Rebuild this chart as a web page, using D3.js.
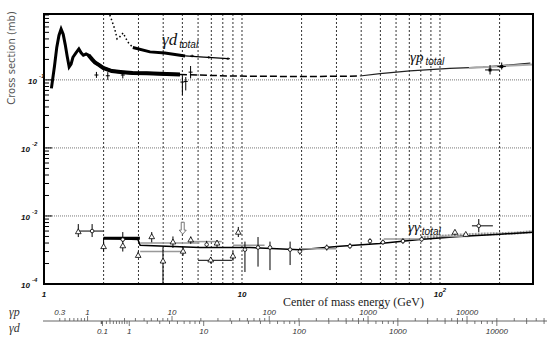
<!DOCTYPE html>
<html>
<head>
<meta charset="utf-8">
<script src="https://cdn.jsdelivr.net/npm/d3@7"></script>
<style>
body { margin: 0; background: #fff; }
svg { display: block; }
</style>
</head>
<body>
<script>
// gamma-p total cross section, low energy band (W in GeV, sigma in mb)
const gpW = [1.09, 1.13, 1.16, 1.19, 1.22, 1.25, 1.28, 1.31, 1.34, 1.37, 1.40, 1.45, 1.50, 1.54, 1.58, 1.63, 1.68, 1.75, 1.81, 1.90, 1.99, 2.2, 2.5, 2.8, 3.3, 3.85, 4.86];
const gpS = [0.075, 0.16, 0.30, 0.45, 0.56, 0.47, 0.33, 0.22, 0.155, 0.17, 0.215, 0.25, 0.285, 0.25, 0.23, 0.24, 0.23, 0.20, 0.18, 0.165, 0.15, 0.135, 0.13, 0.126, 0.125, 0.123, 0.12];
// gamma-p, intermediate (dashed) and high energy
const gpMidW = [4.86, 8.7, 19.6, 31.2, 39.4];
const gpMidS = [0.12, 0.114, 0.112, 0.113, 0.114];
const gpHiW = [39.4, 49.8, 70.5, 112, 165, 286];
const gpHiS = [0.114, 0.124, 0.136, 0.148, 0.154, 0.176];
// gamma-p points: [W, sigma, low, high]
const gpPts = [[1.84, 0.118, 0.107, 0.131], [2.1, 0.115, 0.100, 0.130], [2.5, 0.118, 0.105, 0.132], [5.0, 0.093, 0.060, 0.115], [5.2, 0.095, 0.070, 0.110], [5.5, 0.13, 0.105, 0.16]];
// HERA points: [W, sigma, low, high, Wlow, Whigh]
const gpHera = [[179, 0.14, 0.12, 0.165, 169, 200], [205, 0.157, 0.142, 0.18, 195, 215]];

// gamma-d total cross section
const gdW = [2.15, 2.2, 2.28, 2.34, 2.40, 2.51, 2.65, 2.81, 3.43, 4.08, 5.16, 6.13, 8.5];
const gdS = [0.90, 0.75, 0.55, 0.40, 0.42, 0.49, 0.36, 0.30, 0.258, 0.249, 0.225, 0.218, 0.205];
const gdPts = [[5.6, 0.224, 0.215, 0.235], [6.8, 0.214, 0.205, 0.224], [8.5, 0.205, 0.196, 0.214]];

// gamma-gamma total cross section
const ggW = [1.99, 2.98, 3.06, 6.13, 10.97, 19.6, 31.2, 49.8, 79, 125, 201, 295];
const ggS = [4.7e-4, 4.5e-4, 3.7e-4, 3.44e-4, 3.44e-4, 3.2e-4, 3.6e-4, 3.95e-4, 4.5e-4, 5.0e-4, 5.4e-4, 5.77e-4];
const ggBandW = [80, 120, 160, 200, 240, 295];
const ggBandS = [4.8e-4, 5.2e-4, 5.4e-4, 5.5e-4, 5.6e-4, 5.9e-4];
// [W, sigma, low, high]
const ggTri = [[1.49, 5.8e-4, 4.9e-4, 7.6e-4], [2.00, 3.5e-4, 3.0e-4, 4.7e-4], [2.50, 3.6e-4, 3.0e-4, 5.8e-4], [2.99, 2.6e-4, 2.45e-4, 3.0e-4], [3.50, 4.9e-4, 4.1e-4, 5.8e-4], [3.99, 2.15e-4, 1.03e-4, 3.44e-4], [4.48, 4.1e-4, 3.4e-4, 5.0e-4], [5.04, 3.0e-4, 2.6e-4, 3.5e-4], [5.51, 4.4e-4, 3.9e-4, 5.0e-4], [6.95, 2.23e-4, 2.0e-4, 2.5e-4], [7.48, 3.95e-4, 3.5e-4, 4.4e-4], [9.0, 2.55e-4, 2.2e-4, 3.0e-4], [9.58, 5.7e-4, 4.9e-4, 6.9e-4], [119, 5.7e-4, 5.2e-4, 6.2e-4], [135, 5.3e-4, 5.0e-4, 5.6e-4]];
const ggCirc = [[1.75, 6.0e-4, 4.9e-4, 7.6e-4], [2.5, 4.5e-4, 4.2e-4, 4.8e-4], [6.63, 3.8e-4, 3.4e-4, 4.3e-4], [10.35, 3.2e-4, 1.5e-4, 4.2e-4], [12.05, 3.44e-4, 1.8e-4, 4.9e-4], [13.85, 3.44e-4, 1.6e-4, 4.2e-4], [17.5, 3.2e-4, 1.9e-4, 4.2e-4], [19.6, 3.0e-4, 2.7e-4, 3.4e-4], [26.8, 3.44e-4, 3.1e-4, 3.8e-4], [35.1, 3.6e-4, 3.3e-4, 4.0e-4], [44.3, 4.27e-4, 3.9e-4, 4.7e-4], [51.5, 4.1e-4, 3.8e-4, 4.5e-4], [65, 4.27e-4, 3.9e-4, 4.7e-4], [80.8, 4.54e-4, 4.2e-4, 5.0e-4], [157, 7.16e-4, 5.77e-4, 9.0e-4]];
// horizontal bins: [Wlow, Whigh, sigma]
const ggBins = [[1.49, 1.99, 6.0e-4], [2.0, 3.05, 4.7e-4], [6.0, 8.9, 2.23e-4], [145, 185, 7.16e-4]];
const ggGreyBins = [[3.06, 6.1, 4.0e-4], [3.06, 5.0, 3.0e-4], [5.5, 7.9, 4.2e-4], [9.0, 13, 3.7e-4], [20, 30, 3.3e-4], [52, 80, 4.6e-4], [100, 140, 5.0e-4]];
// upper limit arrow: [W, from, to]
const ggLim = [[5.02, 8.1e-4, 5.4e-4]];

// tick values
const yDecades = [1e-4, 1e-3, 1e-2, 1e-1];
const yLabels = ['-4', '-3', '-2', '-1'];
const xDecades = [1, 10, 100];
const xLabels = ['1', '10', '10'];
const gpLabE = [0.3, 1, 10, 100, 1000, 10000];
const gpLabT = ['0.3', '1', '10', '100', '1000', '10000'];
const gdLabE = [0.1, 1, 10, 100, 1000, 10000];
const gdLabT = ['0.1', '1', '10', '100', '1000', '10000'];

const mp = 0.938, md = 1.876;

const svg = d3.select('body').append('svg').attr('width', 550).attr('height', 344);

const x = d3.scaleLog().domain([1, 295]).range([44, 533]);
const y = d3.scaleLog().domain([1e-4, 0.93]).range([284, 14]);

// minor positions
const xMinor = [];
[1, 10, 100].forEach(d => { for (let k = 2; k <= 10; k++) if (d * k <= 295) xMinor.push(d * k); });
const yMinor = [];
[1e-4, 1e-3, 1e-2, 1e-1].forEach(d => { for (let k = 2; k <= 9; k++) if (d * k <= 0.93) yMinor.push(d * k); });

// grid
const grid = svg.append('g');
grid.selectAll('.vg').data(xMinor).join('line')
  .attr('x1', d => x(d)).attr('x2', d => x(d)).attr('y1', 14).attr('y2', 284)
  .style('stroke', '#333').style('stroke-width', 1).style('stroke-dasharray', '2,2');
grid.selectAll('.hg').data([1e-3, 1e-2, 1e-1]).join('line')
  .attr('x1', 44).attr('x2', 533).attr('y1', d => y(d)).attr('y2', d => y(d))
  .style('stroke', '#777').style('stroke-width', 1).style('stroke-dasharray', '1,1');

const line = d3.line().x(d => x(d[0])).y(d => y(d[1]));
const zip = (a, b) => a.map((v, i) => [v, b[i]]);

// gamma p
svg.append('path').attr('d', line(zip(gpW, gpS))).style('fill', 'none').style('stroke', '#000').style('stroke-width', 3);
svg.append('path').attr('d', line(zip(gpW.slice(16), gpS.slice(16)))).style('fill', 'none').style('stroke', '#000').style('stroke-width', 4);
svg.append('path').attr('d', line(zip(gpMidW, gpMidS))).style('fill', 'none').style('stroke', '#000').style('stroke-width', 1.5).style('stroke-dasharray', '7,3');
svg.append('path').attr('d', line(zip(gpHiW, gpHiS))).style('fill', 'none').style('stroke', '#222').style('stroke-width', 1.2);
svg.append('path').attr('d', line([[140, 0.15], [295, 0.168]])).style('fill', 'none').style('stroke', '#aaa').style('stroke-width', 2);

// gamma d
svg.append('path').attr('d', line(zip(gdW.slice(0, 8), gdS.slice(0, 8)))).style('fill', 'none').style('stroke', '#000').style('stroke-width', 1.5).style('stroke-dasharray', '1.5,2.5');
svg.append('path').attr('d', line(zip(gdW.slice(7, 11), gdS.slice(7, 11)))).style('fill', 'none').style('stroke', '#000').style('stroke-width', 3);
svg.append('path').attr('d', line(zip(gdW.slice(10), gdS.slice(10)))).style('fill', 'none').style('stroke', '#000').style('stroke-width', 1.2);

// gamma gamma
svg.append('path').attr('d', line(zip(ggBandW, ggBandS))).style('fill', 'none').style('stroke', '#999').style('stroke-width', 3).style('stroke-dasharray', '2,1');
svg.append('path').attr('d', line(zip(ggW, ggS))).style('fill', 'none').style('stroke', '#000').style('stroke-width', 1.5);

function errBars(g, data, col) {
  g.selectAll(null).data(data).join('line')
    .attr('x1', d => x(d[0])).attr('x2', d => x(d[0]))
    .attr('y1', d => y(d[2])).attr('y2', d => y(d[3]))
    .style('stroke', col).style('stroke-width', 1);
}
const marks = svg.append('g');
marks.selectAll(null).data(ggGreyBins).join('line')
  .attr('x1', d => x(d[0])).attr('x2', d => x(d[1])).attr('y1', d => y(d[2])).attr('y2', d => y(d[2]))
  .style('stroke', '#999').style('stroke-width', 1.5);
marks.selectAll(null).data(ggBins).join('line')
  .attr('x1', d => x(d[0])).attr('x2', d => x(d[1])).attr('y1', d => y(d[2])).attr('y2', d => y(d[2]))
  .style('stroke', '#000').style('stroke-width', (d, i) => i === 1 ? 3 : 1);
marks.selectAll(null).data(gpHera).join('line')
  .attr('x1', d => x(d[4])).attr('x2', d => x(d[5])).attr('y1', d => y(d[1])).attr('y2', d => y(d[1]))
  .style('stroke', '#000').style('stroke-width', 1);
errBars(marks, ggTri, '#000');
errBars(marks, ggCirc, '#000');
errBars(marks, gpPts, '#000');
errBars(marks, gpHera, '#000');
errBars(marks, gdPts, '#000');

const tri = d3.symbol().type(d3.symbolTriangle).size(14);
marks.selectAll(null).data(ggTri).join('path')
  .attr('d', tri).attr('transform', d => `translate(${x(d[0])},${y(d[1])})`)
  .style('fill', '#fff').style('stroke', '#000').style('stroke-width', 0.8);
marks.selectAll(null).data(ggCirc).join('circle')
  .attr('cx', d => x(d[0])).attr('cy', d => y(d[1])).attr('r', 1.8)
  .style('fill', '#fff').style('stroke', '#000').style('stroke-width', 0.8);
// small crosses on gamma-p / gamma-d points
marks.selectAll(null).data(gpPts.concat(gdPts)).join('line')
  .attr('x1', d => x(d[0]) - 2).attr('x2', d => x(d[0]) + 2).attr('y1', d => y(d[1])).attr('y2', d => y(d[1]))
  .style('stroke', '#000').style('stroke-width', 1);
marks.selectAll(null).data(gpHera).join('rect')
  .attr('x', d => x(d[0]) - 1.5).attr('y', d => y(d[1]) - 1.5).attr('width', 3).attr('height', 3)
  .style('fill', '#000');
// upper limit arrows
ggLim.forEach(d => {
  const xx = x(d[0]), y1 = y(d[1]), y2 = y(d[2]);
  marks.append('path')
    .attr('d', `M${xx - 1.5},${y1} L${xx - 1.5},${y2 - 4} L${xx - 3.5},${y2 - 4} L${xx},${y2} L${xx + 3.5},${y2 - 4} L${xx + 1.5},${y2 - 4} L${xx + 1.5},${y1} Z`)
    .style('fill', '#fff').style('stroke', '#555').style('stroke-width', 0.8);
});

// frame
svg.append('rect').attr('x', 44).attr('y', 14).attr('width', 489).attr('height', 270)
  .style('fill', 'none').style('stroke', '#000').style('stroke-width', 2);

// y ticks
svg.selectAll('.yt').data(yDecades).join('line')
  .attr('x1', 44).attr('x2', 52).attr('y1', d => y(d)).attr('y2', d => y(d))
  .style('stroke', '#000').style('stroke-width', 1);
svg.selectAll('.ym').data(yMinor).join('line')
  .attr('x1', 44).attr('x2', 49).attr('y1', d => y(d)).attr('y2', d => y(d))
  .style('stroke', '#000').style('stroke-width', 1);

const tickFont = 'Liberation Sans, Arial, sans-serif';
const yl = svg.append('g').style('font-family', tickFont).style('font-style', 'italic').style('font-weight', 'bold').style('fill', '#111');
yDecades.forEach((d, i) => {
  const x0 = i === 3 ? 28 : 21;
  const t = yl.append('text').attr('x', x0).attr('y', y(d) + 4).style('font-size', '8px');
  t.append('tspan').text('10');
  t.append('tspan').attr('dx', 2).attr('dy', -6).style('font-size', '6px').text(yLabels[i]);
});
// x tick labels
xDecades.forEach((d, i) => {
  const t = yl.append('text').attr('x', x(d)).attr('y', 297).attr('text-anchor', 'middle').style('font-size', '8px');
  t.append('tspan').text(xLabels[i]);
  if (i === 2) t.append('tspan').attr('dx', 0).attr('dy', -5).style('font-size', '6px').text('2');
});

// axis titles
svg.append('text').attr('transform', 'translate(15,58) rotate(-90)').attr('text-anchor', 'middle')
  .style('font-family', 'DejaVu Sans, sans-serif').style('font-size', '10px').style('fill', '#555')
  .text('Cross section (mb)');
svg.append('text').attr('x', 424).attr('y', 306).attr('text-anchor', 'end')
  .style('font-family', 'Liberation Serif, Times New Roman, serif').style('font-size', '12px').style('fill', '#222')
  .text('Center of mass energy (GeV)');

// curve labels
function curveLabel(xp, yp, main, sub, big) {
  const t = svg.append('text').attr('x', xp).attr('y', yp)
    .style('font-family', 'Liberation Serif, serif').style('font-style', 'italic').style('font-size', big + 'px').style('fill', '#111');
  t.append('tspan').text(main);
  t.append('tspan').attr('dx', 2).attr('dy', 3).style('font-family', tickFont).style('font-size', '10px').text(sub);
}
curveLabel(162, 45, 'γd', 'total', 17);
curveLabel(410, 62, 'γp', 'total', 15);
curveLabel(408, 232, 'γγ', 'total', 15);

// lower photon-energy axis (gamma p above, gamma d below)
const wOf = (E, m) => Math.sqrt(m * m + 2 * m * E);
const ax = svg.append('g');
ax.append('line').attr('x1', 43).attr('x2', 547).attr('y1', 321).attr('y2', 321).style('stroke', '#666').style('stroke-width', 1);
function photonTicks(m, eMin, eMax, dir) {
  const t = [];
  for (let dec = 0.01; dec <= 1e5; dec *= 10) {
    for (let k = 1; k <= 9; k++) {
      const e = +(dec * k).toPrecision(3);
      if (e >= eMin && e <= eMax) t.push([e, k === 1]);
    }
  }
  ax.selectAll(null).data(t).join('line')
    .attr('x1', d => x(wOf(d[0], m))).attr('x2', d => x(wOf(d[0], m)))
    .attr('y1', 321).attr('y2', d => 321 + dir * (d[1] ? 5 : 3))
    .style('stroke', '#555').style('stroke-width', 0.8);
}
photonTicks(mp, 0.3, 60000, -1);
photonTicks(md, 0.07, 30000, 1);
ax.selectAll(null).data(gpLabE).join('text')
  .attr('x', d => x(wOf(d, mp))).attr('y', 315).attr('text-anchor', 'middle')
  .style('font-family', tickFont).style('font-style', 'italic').style('font-size', '8px').style('fill', '#333')
  .text((d, i) => gpLabT[i]);
ax.selectAll(null).data(gdLabE).join('text')
  .attr('x', d => x(wOf(d, md))).attr('y', 334).attr('text-anchor', 'middle')
  .style('font-family', tickFont).style('font-style', 'italic').style('font-size', '8px').style('fill', '#333')
  .text((d, i) => gdLabT[i]);
ax.append('text').attr('x', 9).attr('y', 316).style('font-family', 'Liberation Serif, serif').style('font-style', 'italic').style('font-size', '12px').style('fill', '#333').text('γp');
ax.append('text').attr('x', 9).attr('y', 332).style('font-family', 'Liberation Serif, serif').style('font-style', 'italic').style('font-size', '12px').style('fill', '#333').text('γd');
</script>
</body>
</html>
